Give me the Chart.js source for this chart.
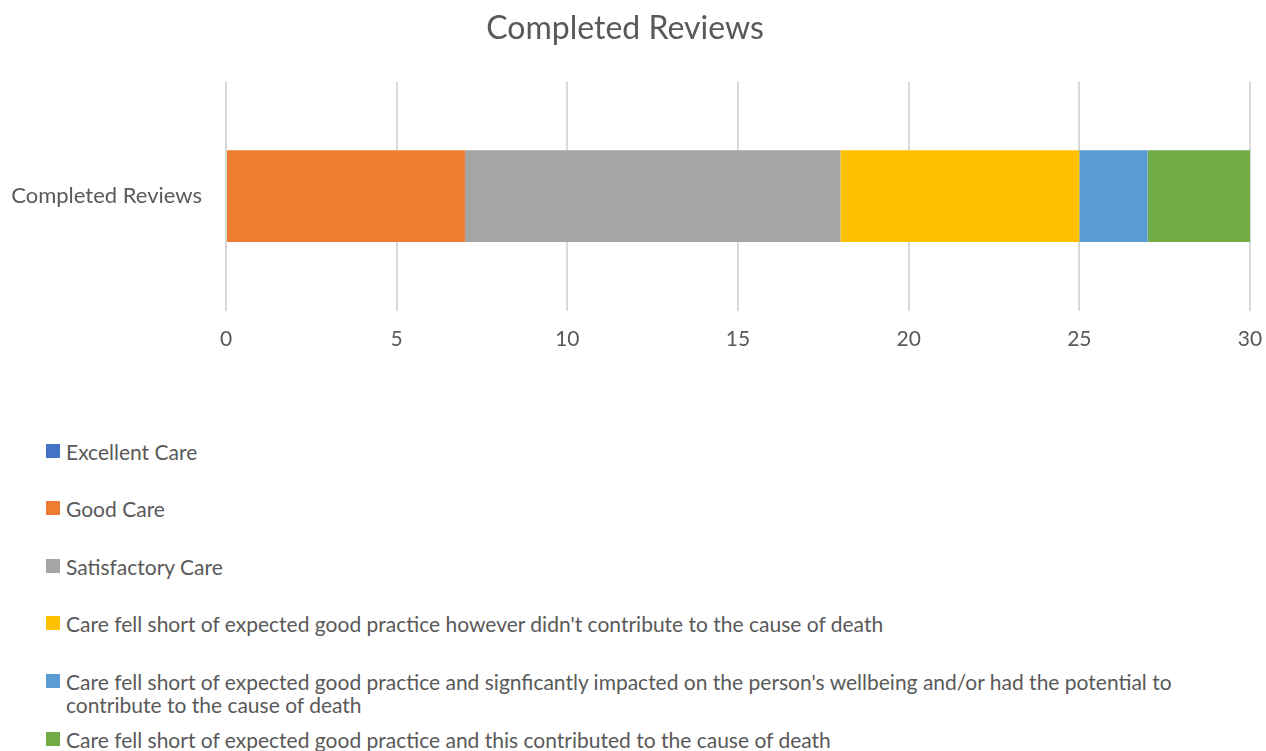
<!DOCTYPE html>
<html>
<head>
<meta charset="utf-8">
<script src="https://cdn.jsdelivr.net/npm/chart.js@4"></script>
<style>
    body { margin: 0; background: #fff; width: 1266px; height: 751px; overflow: hidden; font-family: Lato, sans-serif; }
    #wrap { position: absolute; left: 0; top: 0; width: 1266px; height: 368px; }
    #legend { position: absolute; left: 46px; top: 0; width: 1215px; color: #595959; font-size: 21px; }
    .item { position: absolute; left: 0; display: flex; align-items: flex-start; line-height: 23px; }
    .box { width: 14px; height: 14px; margin-top: 4px; margin-right: 6px; flex: none; }
</style>
</head>
<body>
<div id="wrap"><canvas id="chart"></canvas></div>
<div id="legend"></div>
<script>
const categories = ['Completed Reviews'];
const seriesNames = [
    'Excellent Care',
    'Good Care',
    'Satisfactory Care',
    "Care fell short of expected good practice however didn't contribute to the cause of death",
    "Care fell short of expected good practice and signficantly impacted on the person's wellbeing and/or had the potential to contribute to the cause of death",
    'Care fell short of expected good practice and this contributed to the cause of death'
];
const seriesValues = [0, 7, 11, 7, 2, 3];
const seriesColors = ['#4472C4', '#ED7D31', '#A5A5A5', '#FFC000', '#5B9BD5', '#70AD47'];
const xTicks = [0, 5, 10, 15, 20, 25, 30];

// top of each legend row
const legendTops = [440, 497, 555, 612, 670, 728];

let datasets = seriesNames.map((name, i) => ({
    label: name,
    data: [seriesValues[i]],
    backgroundColor: seriesColors[i],
    borderWidth: 0,
    barPercentage: 0.4,
    categoryPercentage: 1
}));

let ctx = document.getElementById('chart');
let chart = new Chart(ctx, {
    type: 'bar',
    data: { labels: categories, datasets: datasets },
    options: {
        indexAxis: 'y',
        responsive: true,
        maintainAspectRatio: false,
        animation: false,
        layout: { padding: { left: 0, right: 16, top: 0, bottom: 0 } },
        plugins: {
            legend: { display: false },
            tooltip: { enabled: false },
            title: {
                display: true,
                text: 'Completed Reviews',
                color: '#595959',
                font: { family: 'Lato', size: 32, weight: 'normal' },
                padding: { top: 9, bottom: 34 }
            }
        },
        scales: {
            x: {
                stacked: true,
                min: 0,
                max: 30,
                afterBuildTicks: (scale) => { scale.ticks = xTicks.map(v => ({ value: v })); },
                afterFit: (scale) => { scale.paddingLeft = 0; scale.paddingRight = 0; },
                grid: { color: '#D9D9D9', lineWidth: 2, drawTicks: false },
                border: { display: false },
                ticks: { color: '#595959', padding: 16, font: { family: 'Lato', size: 21 } }
            },
            y: {
                stacked: true,
                grid: { display: false, drawTicks: false },
                border: { display: false },
                afterFit: (scale) => { scale.width = 226; },
                ticks: { color: '#595959', padding: 24, font: { family: 'Lato', size: 22 } }
            }
        }
    }
});

let legend = document.getElementById('legend');
seriesNames.forEach((name, i) => {
    let item = document.createElement('div');
    item.className = 'item';
    item.style.top = legendTops[i] + 'px';
    item.innerHTML = '<span class="box" style="background:' + seriesColors[i] + '"></span><span>' + name + '</span>';
    legend.appendChild(item);
});
</script>
</body>
</html>
